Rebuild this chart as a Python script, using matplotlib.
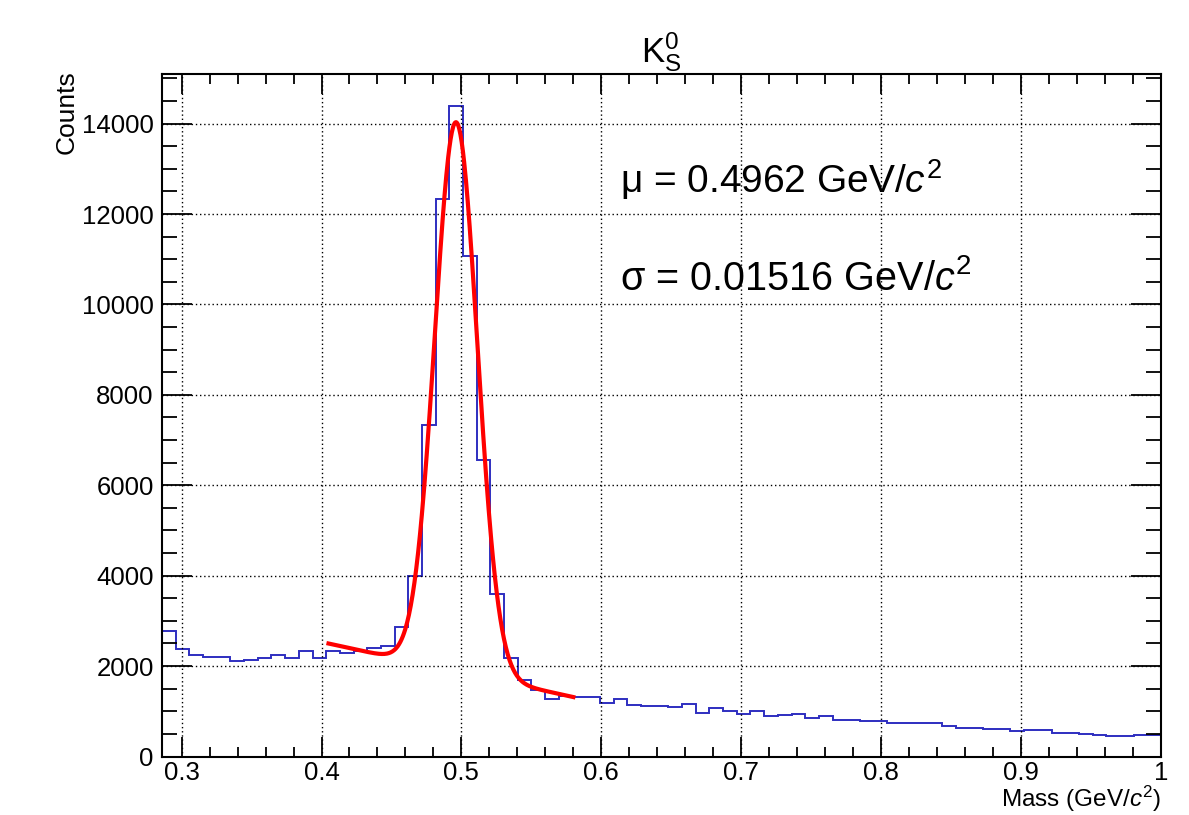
import numpy as np
from matplotlib import pyplot as plt
from matplotlib.ticker import MultipleLocator

plt.rcParams['font.family'] = ['Liberation Sans', 'DejaVu Sans']
plt.rcParams['mathtext.fontset'] = 'custom'
plt.rcParams['mathtext.rm'] = 'Liberation Sans'
plt.rcParams['mathtext.it'] = 'Liberation Sans:italic'

# histogram range and bin contents (73 bins)
x_min, x_max = 0.286, 1.0
counts = [2780, 2370, 2235, 2206, 2206, 2115, 2135, 2172, 2240, 2183,
          2340, 2180, 2340, 2282, 2340, 2390, 2440, 2870, 3990, 7330,
          12340, 14380, 11070, 6555, 3606, 2170, 1690, 1470, 1268, 1335,
          1308, 1308, 1190, 1262, 1133, 1120, 1108, 1088, 1153, 970,
          1065, 1006, 940, 1006, 898, 912, 942, 845, 895, 816,
          800, 795, 790, 750, 745, 740, 735, 674, 630, 620,
          605, 598, 571, 580, 578, 527, 525, 497, 475, 453,
          453, 475, 478]

# fit: gaussian + linear background
mu = 0.4962
sigma = 0.01516
amp = 12150
p0, p1 = 5242, -6771
fit_lo, fit_hi = 0.405, 0.58

edges = np.linspace(x_min, x_max, len(counts) + 1)
xf = np.linspace(fit_lo, fit_hi, 400)
yf = amp * np.exp(-0.5 * ((xf - mu) / sigma) ** 2) + p0 + p1 * xf

fig = plt.figure(figsize=(11.89, 8.15), dpi=100)
ax = fig.add_axes([162 / 1189, 1 - 756.5 / 815, 999 / 1189, 682.5 / 815])

ax.stairs(counts, edges, color='#2e2ec0', lw=1.4, baseline=None)
ax.plot(xf, yf, color='#ff0000', lw=3.0)

ax.set_xlim(x_min, x_max)
ax.set_ylim(0, 1.05 * max(counts))

ax.xaxis.set_major_locator(MultipleLocator(0.1))
ax.xaxis.set_minor_locator(MultipleLocator(0.02))
ax.yaxis.set_major_locator(MultipleLocator(2000))
ax.yaxis.set_minor_locator(MultipleLocator(500))
ax.set_xticks(np.arange(0.3, 1.01, 0.1))
ax.set_xticklabels(['0.3', '0.4', '0.5', '0.6', '0.7', '0.8', '0.9', '1'])

ax.tick_params(axis='both', which='both', direction='in', top=True, right=True, width=1.3)
ax.tick_params(axis='x', which='major', length=14.4, labelsize=18.5, pad=3)
ax.tick_params(axis='x', which='minor', length=7.2)
ax.tick_params(axis='y', which='major', length=21.6, labelsize=18.5, pad=6)
ax.tick_params(axis='y', which='minor', length=10.8)
for s in ax.spines.values():
    s.set_linewidth(1.5)

ax.grid(True, which='major', color='black', linestyle=(0, (1, 2)), lw=1.0)

ax.set_title(r'$\mathrm{K}^{0}_{\mathrm{S}}$', fontsize=25, pad=6)
ax.set_xlabel('Mass (GeV/$c^{2}$)', fontsize=17.5, loc='right')
ax.xaxis.set_label_coords(1.0, -0.040)
ax.set_ylabel('Counts', fontsize=19, loc='top')
ax.yaxis.set_label_coords(-0.083, 1.005)

ax.text(620 / 1189, 1 - 193 / 815, u'\u03bc = 0.4962 GeV/$c^{2}$', fontsize=28,
        transform=fig.transFigure)
ax.text(620 / 1189, 1 - 290 / 815, u'\u03c3 = 0.01516 GeV/$c^{2}$', fontsize=28.5,
        transform=fig.transFigure)

plt.savefig('out.png', dpi=100)
